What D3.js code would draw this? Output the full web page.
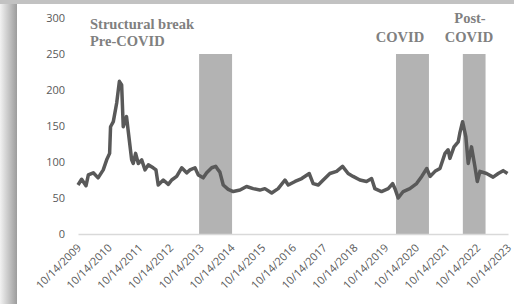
<script src="https://d3js.org/d3.v7.min.js"></script>
<body style="margin:0;background:#fff">
<script>
  // price series (approx.)
  const dates = ["2009-10-14","2009-11-26","2010-01-17","2010-02-14","2010-04-14","2010-06-10","2010-08-10","2010-09-20","2010-10-25","2010-11-05","2010-12-08","2011-01-17","2011-02-18","2011-03-17","2011-04-05","2011-05-14","2011-06-02","2011-07-14","2011-08-02","2011-08-30","2011-10-01","2011-11-10","2011-12-20","2012-01-28","2012-03-26","2012-04-28","2012-05-25","2012-07-24","2012-09-22","2012-11-01","2012-12-30","2013-02-28","2013-04-28","2013-06-07","2013-08-05","2013-09-14","2013-11-11","2013-12-22","2014-02-20","2014-04-08","2014-05-08","2014-05-28","2014-07-07","2014-09-04","2014-11-03","2015-01-22","2015-04-10","2015-06-28","2015-09-15","2015-11-14","2016-02-03","2016-04-20","2016-07-10","2016-08-18","2016-11-07","2017-01-25","2017-04-25","2017-06-10","2017-08-10","2017-10-08","2017-12-26","2018-03-16","2018-05-26","2018-07-31","2018-09-28","2018-12-18","2019-03-07","2019-05-06","2019-06-14","2019-09-01","2019-11-20","2020-01-11","2020-02-08","2020-03-17","2020-05-16","2020-08-03","2020-10-22","2020-12-22","2021-02-20","2021-03-31","2021-05-29","2021-07-27","2021-09-25","2021-11-01","2021-11-22","2022-01-10","2022-03-01","2022-03-20","2022-04-22","2022-05-31","2022-06-28","2022-08-06","2022-09-15","2022-10-14","2022-11-14","2023-02-01","2023-04-20","2023-06-20","2023-08-17","2023-10-08"];
  const values = [68,76,67,82,85,78,89,103,112,149,156,182,212,207,149,163,144,103,98,112,98,103,89,96,92,89,68,75,69,75,80,92,85,89,92,82,78,85,92,94,89,86,68,62,59,61,66,63,61,63,57,63,75,68,73,77,84,70,68,75,84,87,94,84,80,75,73,77,63,59,63,70,63,50,59,63,70,80,91,80,87,91,112,117,105,121,128,140,156,135,98,121,94,73,87,84,79,84,88,84];

  // shaded periods
  const bandNames = ["Structural break Pre-COVID", "COVID", "Post-COVID"];
  const bandStart = ["2013-09-23", "2020-02-20", "2022-04-25"];
  const bandEnd = ["2014-10-20", "2021-03-18", "2023-01-20"];
  const bandTop = 250;

  const tickYears = [2009,2010,2011,2012,2013,2014,2015,2016,2017,2018,2019,2020,2021,2022,2023];
  const yTicks = [0,50,100,150,200,250,300];

  const parse = d3.timeParse("%Y-%m-%d");
  const W = 514, H = 304;

  const svg = d3.select("body").append("svg")
    .attr("width", W).attr("height", H)
    .style("display", "block");

  // frame / shadow
  const defs = svg.append("defs");
  const grad = defs.append("linearGradient").attr("id", "sh").attr("x1", 0).attr("x2", 1);
  grad.append("stop").attr("offset", "0%").attr("stop-color", "#f2f2f2");
  grad.append("stop").attr("offset", "100%").attr("stop-color", "#9c9c9c");
  svg.append("rect").attr("x", 0).attr("y", 0).attr("width", 17).attr("height", H).attr("fill", "url(#sh)");
  svg.append("rect").attr("x", 0).attr("y", 0).attr("width", W).attr("height", 4).attr("fill", "#c2c2c2");
  svg.append("rect").attr("x", 17).attr("y", 4).attr("width", W - 17).attr("height", H - 4).attr("fill", "#fff");

  const x = d3.scaleTime()
    .domain([new Date(2009, 9, 14), new Date(2023, 9, 14)])
    .range([78, 508]);
  const y = d3.scaleLinear().domain([0, 300]).range([234, 18]);

  // shaded bands
  svg.selectAll("rect.band")
    .data(bandStart)
    .enter()
    .append("rect")
    .attr("class", "band")
    .attr("x", (d, i) => x(parse(d)))
    .attr("width", (d, i) => x(parse(bandEnd[i])) - x(parse(d)))
    .attr("y", y(bandTop))
    .attr("height", y(0) - y(bandTop))
    .attr("fill", "#b3b3b3");

  // axes
  const xAxis = d3.axisBottom(x)
    .tickValues(tickYears.map(yr => new Date(yr, 9, 14)))
    .tickFormat(d3.timeFormat("%m/%d/%Y"))
    .tickSize(0);
  const gx = svg.append("g").attr("transform", "translate(0," + y(0) + ")").call(xAxis);
  gx.select(".domain").attr("stroke", "#d9d9d9").attr("stroke-width", 1.3);
  gx.selectAll("text")
    .attr("fill", "#595959")
    .style("font-family", "'Open Sans', sans-serif")
    .style("font-size", "11px")
    .attr("text-anchor", "end")
    .attr("transform", "translate(-2,9) rotate(-45)")
    .attr("dy", "0.7em")
    .attr("y", 0).attr("x", 0);

  const yAxis = d3.axisLeft(y).tickValues(yTicks).tickSize(0).tickPadding(12);
  const gy = svg.append("g").attr("transform", "translate(77,0)").call(yAxis);
  gy.select(".domain").remove();
  gy.selectAll("text")
    .attr("fill", "#595959")
    .style("font-family", "'Open Sans', sans-serif")
    .style("font-size", "11px");

  // the series
  const line = d3.line()
    .x((d, i) => x(parse(dates[i])))
    .y(d => y(d));
  svg.append("path")
    .datum(values)
    .attr("d", line)
    .attr("fill", "none")
    .attr("stroke", "#595959")
    .attr("stroke-width", 3.5)
    .attr("stroke-linejoin", "round");

  // annotations
  const notes = [
    {t: "Structural break", x: 90, y: 29, a: "start"},
    {t: "Pre-COVID", x: 90, y: 46, a: "start"},
    {t: "COVID", x: 400, y: 42, a: "middle"},
    {t: "Post-", x: 470, y: 23, a: "middle"},
    {t: "COVID", x: 469, y: 42, a: "middle"}
  ];
  svg.selectAll("text.note")
    .data(notes)
    .enter()
    .append("text")
    .attr("class", "note")
    .attr("x", d => d.x).attr("y", d => d.y)
    .attr("text-anchor", d => d.a)
    .attr("fill", "#808080")
    .style("font-family", "'Liberation Serif', serif")
    .style("font-weight", "bold")
    .style("font-size", "14.5px")
    .text(d => d.t);
</script>
</body>
